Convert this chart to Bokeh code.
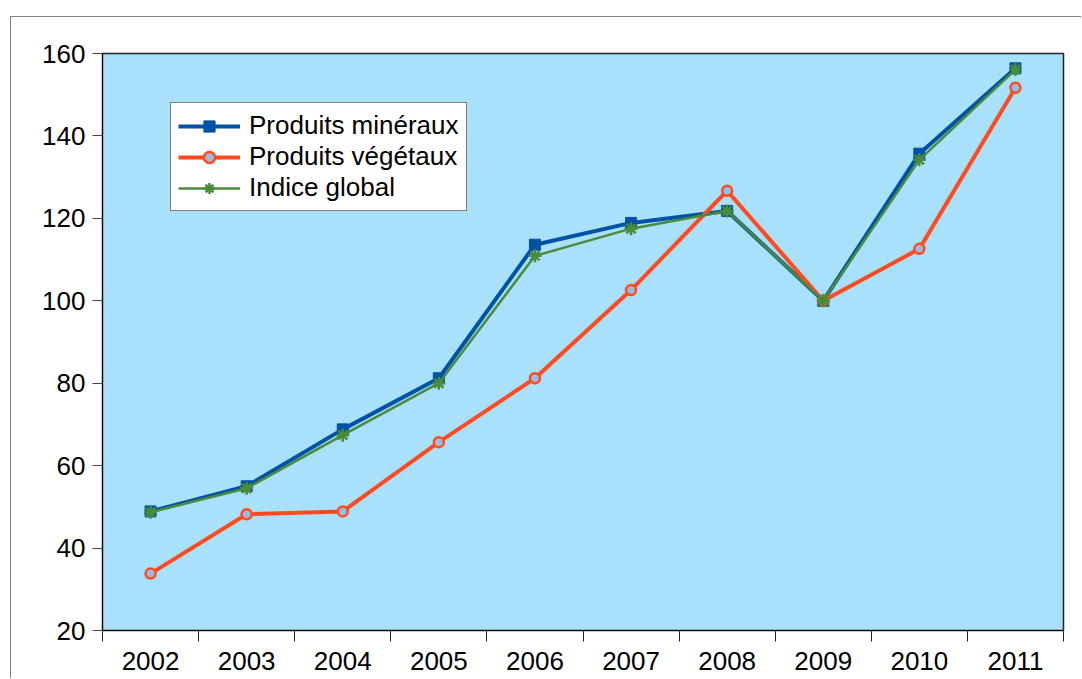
from bokeh.plotting import figure
from bokeh.models import Range1d, FixedTicker, Legend, LegendItem
from bokeh.embed import file_html
from bokeh.resources import INLINE

years = ["2002", "2003", "2004", "2005", "2006", "2007", "2008", "2009", "2010", "2011"]
mineraux = [48.9, 55.0, 68.8, 81.2, 113.6, 118.9, 121.8, 100.0, 135.7, 156.4]
vegetaux = [33.8, 48.2, 48.9, 65.7, 81.2, 102.6, 126.7, 100.0, 112.6, 151.7]
indice = [48.7, 54.5, 67.4, 80.0, 110.9, 117.5, 121.8, 100.0, 134.2, 156.1]
y_ticks = [20, 40, 60, 80, 100, 120, 140, 160]

xs = [i + 0.5 for i in range(len(years))]

p = figure(width=1071, height=662, output_backend="svg", toolbar_location=None,
           x_range=Range1d(0, len(years)), y_range=Range1d(20, 160),
           min_border_left=91, min_border_top=36, min_border_right=19, min_border_bottom=49)
# outer chart-area frame (gray), running off the page on the right/bottom
p.margin = (16, 0, 0, 10)
p.styles = {"border-left": "1px solid #808080", "border-top": "1px solid #808080"}

p.background_fill_color = "#A9E0FA"
p.border_fill_color = "white"
p.outline_line_color = "#222222"
p.outline_line_width = 1.5
p.xgrid.visible = False
p.ygrid.visible = False

FONT = "Liberation Sans"

xa = p.xaxis[0]
xa.ticker = FixedTicker(ticks=xs, minor_ticks=list(range(len(years) + 1)))
xa.major_label_overrides = {x: y for x, y in zip(xs, years)}
xa.major_tick_out = 0
xa.major_tick_in = 0
xa.minor_tick_out = 11
xa.minor_tick_in = 0
xa.minor_tick_line_color = "#222222"
xa.axis_line_color = "black"
xa.major_label_text_font = FONT
xa.major_label_text_font_size = "26px"
xa.major_label_text_color = "black"
xa.major_label_standoff = 10

ya = p.yaxis[0]
ya.ticker = FixedTicker(ticks=y_ticks, minor_ticks=[])
ya.major_tick_out = 10
ya.major_tick_in = 0
ya.major_tick_line_color = "#444444"
ya.axis_line_color = "black"
ya.major_label_text_font = FONT
ya.major_label_text_font_size = "26px"
ya.major_label_text_color = "black"
ya.major_label_standoff = 7

BLUE = "#0052A5"
RED = "#FF4B1F"
GREEN = "#4A8B3B"

l1 = p.line(xs, mineraux, line_color=BLUE, line_width=4)
m1 = p.scatter(xs, mineraux, marker="square", size=11, fill_color=BLUE, line_color=BLUE)
l2 = p.line(xs, vegetaux, line_color=RED, line_width=4)
m2 = p.scatter(xs, vegetaux, marker="circle", size=10, fill_color="#9BBCDD", line_color=RED, line_width=2.5)
l3 = p.line(xs, indice, line_color=GREEN, line_width=2.5)
m3 = p.scatter(xs, indice, marker="asterisk", size=13, line_color=GREEN, line_width=2.5)

legend = Legend(items=[
    LegendItem(label="Produits minéraux", renderers=[l1, m1]),
    LegendItem(label="Produits végétaux", renderers=[l2, m2]),
    LegendItem(label="Indice global", renderers=[l3, m3]),
], location=(68, 419))
legend.label_text_font = FONT
legend.label_text_font_size = "26px"
legend.label_text_color = "black"
legend.glyph_width = 62
legend.glyph_height = 28
legend.label_height = 28
legend.spacing = 0
legend.padding = 7
legend.margin = 0
legend.label_standoff = 9
legend.border_line_color = "black"
legend.border_line_width = 1
legend.background_fill_color = "white"
legend.background_fill_alpha = 1
p.add_layout(legend, "center")

open("out.html", "w").write(file_html(p, INLINE))
